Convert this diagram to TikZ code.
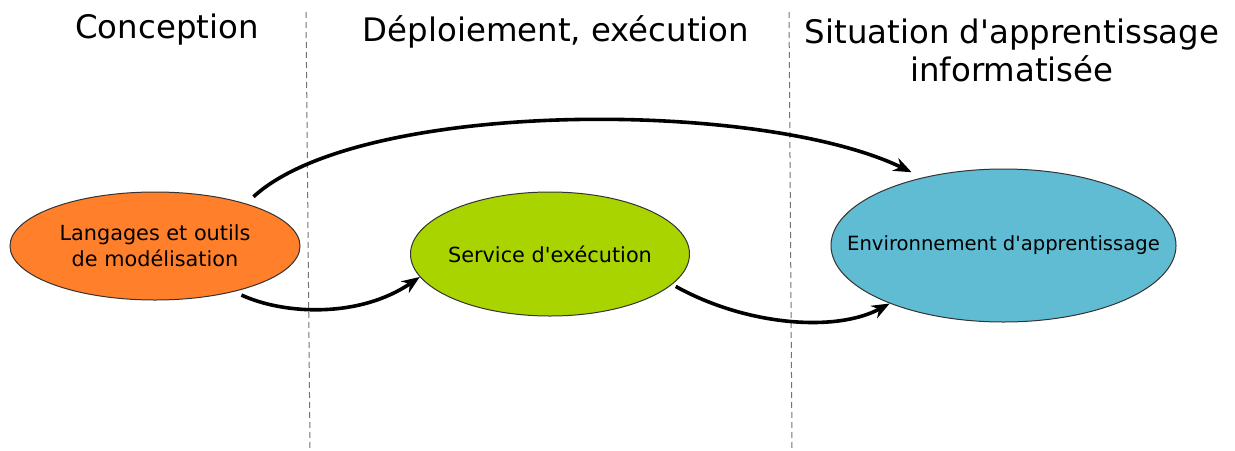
\documentclass[tikz,border=0pt]{standalone}
\usepackage{fontspec}
\setmainfont{DejaVu Sans}
\usetikzlibrary{shapes.geometric}
\usetikzlibrary{arrows.meta}

\definecolor{conceptorange}{HTML}{FF7F2A}
\definecolor{execgreen}{HTML}{AAD400}
\definecolor{envblue}{HTML}{5FBCD3}

\tikzset{
  phase/.style={font=\fontsize{16.2}{19}\selectfont, align=center},
  bubble/.style={shape=ellipse, draw=black!80, line width=0.5pt, inner sep=0pt},
  bubbletext/.style={font=\fontsize{10.4}{13}\selectfont, align=center},
  flow/.style={line width=1.8pt, -{Stealth[length=9pt,width=7pt]}},
  separator/.style={densely dashed, black!55, line width=0.5pt}
}

\begin{document}
\begin{tikzpicture}[x=0.5pt,y=-0.5pt]
\useasboundingbox (0,0) rectangle (1235,450);
\node[phase] (conc) at (167,30) {Conception};
\node[phase] (depl) at (556,32) {Déploiement, exécution};
\node[phase] (situ) at (1012,50) {Situation d\textquotesingle apprentissage\\informatisée};
\draw[separator] (306,12) -- (310,450);
\draw[separator] (789,12) -- (792,450);
\node[bubble, fill=conceptorange, minimum width=145pt, minimum height=54pt,
  label={[bubbletext]center:Langages et outils\\de modélisation}] (lang) at (155,246) {};
\node[bubble, fill=execgreen, minimum width=139.5pt, minimum height=62pt,
  label={[bubbletext]center:Service d\textquotesingle exécution}] (exec) at (550,254) {};
\node[bubble, fill=envblue, minimum width=172.5pt, minimum height=76.5pt,
  label={[bubbletext, font=\fontsize{9.8}{12}\selectfont]center:Environnement d\textquotesingle apprentissage}] (env) at (1003.5,245.5) {};
\draw[flow, shorten <=5pt, shorten >=6pt] (lang.25) .. controls (360,99) and (760,99) .. (env.140);
\draw[flow, shorten <=4pt] (lang.-30) .. controls (285,315) and (360,318) .. (exec.190);
\draw[flow, shorten <=2pt] (exec.-14) .. controls (745,325) and (835,333) .. (env.207);
\end{tikzpicture}
\end{document}
